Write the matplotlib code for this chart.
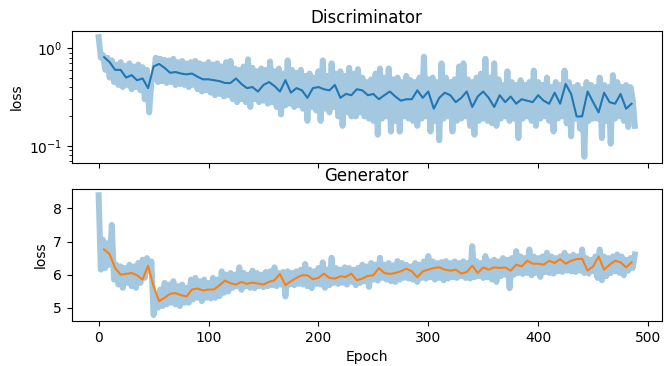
import matplotlib
matplotlib.use('Agg')
import matplotlib.pyplot as plt
import numpy as np

# raw losses: the noisy curve swings between highs (epochs 0, 4, 8, ...)
# and lows (epochs 2, 6, 10, ...)
d_highs = [1.30, 0.85, 0.80, 0.75,
           0.68, 0.72, 0.66, 0.70, 0.65, 0.68, 0.64, 0.60,
           0.45,
           0.80, 0.78, 0.76, 0.75, 0.78, 0.72, 0.74, 0.70, 0.72, 0.74, 0.70, 0.68, 0.72,
           0.68, 0.70, 0.65, 0.72,
           0.74, 0.62, 0.60, 0.65, 0.77, 0.63, 0.58, 0.62, 0.60, 0.73,
           0.58, 0.62, 0.55, 0.75, 0.60, 0.56, 0.60, 0.52, 0.55, 0.50,
           0.58, 0.75, 0.52, 0.70, 0.55, 0.58, 0.52, 0.63, 0.55, 0.61,
           0.50, 0.45, 0.48, 0.55, 0.62, 0.50, 0.62, 0.48, 0.50, 0.45,
           0.52, 0.47, 0.45, 0.50, 0.82, 0.48, 0.50, 0.45, 0.70, 0.50,
           0.45, 0.48, 0.65, 0.70, 0.48, 0.45, 0.50, 0.55, 0.78, 0.50,
           0.70, 0.48, 0.42, 0.58, 0.45, 0.42, 0.47, 0.42, 0.45, 0.59,
           0.45, 0.42, 0.50, 0.40, 0.45, 0.42, 0.59, 0.45, 0.40, 0.42,
           0.38, 0.45, 0.42, 0.40, 0.50, 0.42, 0.40, 0.53, 0.45, 0.40,
           0.42, 0.40, 0.16]
d_lows = [0.80, 0.60, 0.50, 0.45,
          0.42, 0.40, 0.42, 0.38, 0.40, 0.37, 0.30, 0.22,
          0.50, 0.45, 0.46, 0.44, 0.45, 0.42, 0.43, 0.42, 0.40, 0.42, 0.38, 0.36,
          0.37, 0.35, 0.33, 0.34, 0.32,
          0.33, 0.30, 0.28, 0.30, 0.28, 0.25, 0.30, 0.28, 0.29, 0.27,
          0.28, 0.25, 0.21, 0.26, 0.27, 0.25, 0.26, 0.24, 0.18, 0.25,
          0.23, 0.18, 0.24, 0.22, 0.25, 0.20, 0.16, 0.22, 0.20, 0.20, 0.22,
          0.20, 0.19, 0.18, 0.13, 0.19, 0.20, 0.14, 0.18, 0.14, 0.20,
          0.19, 0.18, 0.16, 0.19, 0.20, 0.14, 0.18, 0.114, 0.19, 0.20,
          0.14, 0.18, 0.19, 0.20, 0.16, 0.13, 0.18, 0.19, 0.18, 0.17,
          0.16, 0.19, 0.20, 0.18, 0.19, 0.12, 0.19, 0.20, 0.18, 0.16,
          0.19, 0.20, 0.18, 0.14, 0.19, 0.20, 0.17, 0.125, 0.19, 0.15,
          0.077, 0.18, 0.19, 0.19, 0.12, 0.18, 0.105, 0.19, 0.20, 0.18,
          0.156, 0.30]
g_highs = [8.40, 7.05, 6.95, 7.50, 6.30, 6.25, 6.20, 6.30, 6.25, 6.35,
           6.45, 6.50, 6.40,
           5.30, 5.55, 5.75, 5.70, 5.80, 5.65, 5.70, 5.60,
           5.85, 5.90, 5.80, 5.85, 5.75, 5.90, 5.85, 6.10, 6.00,
           6.05, 6.00, 6.22, 6.05, 6.00, 6.12, 6.05, 6.00, 6.08, 6.10,
           6.22, 6.05, 6.08, 6.10, 6.05, 6.10, 6.15, 6.32, 6.15, 6.10,
           6.20, 6.37, 6.15, 6.51, 6.20, 6.15, 6.22, 6.20, 6.15, 6.20,
           6.30, 6.25, 6.35, 6.30, 6.51, 6.30, 6.35, 6.28, 6.41, 6.35,
           6.30, 6.25, 6.35, 6.30, 6.40, 6.56, 6.40, 6.35, 6.38, 6.41,
           6.35, 6.40, 6.35, 6.40, 6.35, 6.86, 6.40, 6.35, 6.56, 6.40,
           6.45, 6.40, 6.50, 6.45, 6.50, 6.71, 6.55, 6.50, 6.76, 6.55,
           6.50, 6.55, 6.66, 6.55, 6.50, 6.55, 6.66, 6.55, 6.60, 6.55,
           6.76, 6.50, 6.45, 6.55, 6.76, 6.55, 6.50, 6.55, 6.61, 6.55,
           6.45, 6.50, 6.61]
g_lows = [6.15, 6.20, 6.30, 5.85, 5.70, 5.60, 5.75, 5.65, 5.60, 5.75,
          5.90, 6.10,
          4.78, 5.00, 5.05, 5.10, 5.15, 5.10, 5.05, 5.15, 5.15,
          5.25, 5.30, 5.20, 5.30, 5.28, 5.30, 5.35, 5.45,
          5.49, 5.60, 5.65, 5.54, 5.65, 5.60, 5.59, 5.65, 5.62, 5.65,
          5.68, 5.65, 5.70, 5.34, 5.70, 5.68, 5.72, 5.70, 5.65, 5.59,
          5.72, 5.70, 5.60, 5.68, 5.75, 5.72, 5.75, 5.70, 5.78, 5.68, 5.75,
          5.80, 5.63, 5.85, 5.82, 5.90, 5.85, 5.80, 5.78, 5.85, 5.90,
          5.88, 5.85, 5.78, 5.90, 5.88, 5.92, 5.85, 5.90, 5.83, 5.88,
          5.92, 5.90, 5.95, 5.90, 5.88, 5.92, 5.95, 5.90, 5.92, 5.85,
          5.78, 5.95, 6.00, 5.59, 6.00, 6.05, 6.02, 6.05, 5.98, 6.05,
          5.93, 6.08, 6.05, 6.03, 6.10, 6.08, 6.12, 6.10, 6.08, 6.12,
          6.05, 6.03, 6.10, 5.90, 5.83, 5.95, 6.05, 6.10, 6.05, 5.98,
          6.12, 6.20]

# smoothed losses, read every 5 epochs from epoch 5
d_smooth = [0.81, 0.72, 0.60, 0.60, 0.50, 0.53, 0.47, 0.49, 0.39, 0.65,
            0.69, 0.63, 0.56, 0.57, 0.55, 0.54, 0.55, 0.51, 0.48, 0.48,
            0.47, 0.46, 0.44, 0.44, 0.49, 0.43, 0.39, 0.40, 0.36, 0.42,
            0.45, 0.41, 0.36, 0.47, 0.35, 0.39, 0.37, 0.31, 0.39, 0.40,
            0.38, 0.37, 0.42, 0.31, 0.34, 0.33, 0.38, 0.37, 0.33, 0.34,
            0.30, 0.33, 0.36, 0.32, 0.29, 0.30, 0.30, 0.37, 0.31, 0.36,
            0.24, 0.31, 0.35, 0.33, 0.28, 0.31, 0.36, 0.25, 0.32, 0.36,
            0.31, 0.25, 0.33, 0.28, 0.32, 0.27, 0.30, 0.29, 0.28, 0.33,
            0.29, 0.27, 0.35, 0.27, 0.43, 0.34, 0.20, 0.20, 0.36, 0.28,
            0.22, 0.35, 0.28, 0.27, 0.34, 0.24, 0.27]
g_smooth = [6.76, 6.62, 6.20, 6.00, 6.02, 6.05, 5.98, 5.85, 6.27, 5.65,
            5.20, 5.30, 5.42, 5.44, 5.38, 5.34, 5.55, 5.58, 5.52, 5.55,
            5.55, 5.68, 5.82, 5.74, 5.70, 5.78, 5.72, 5.76, 5.73, 5.70,
            5.78, 5.83, 6.02, 5.68, 5.80, 5.90, 5.98, 5.98, 5.86, 5.90,
            6.03, 5.90, 5.88, 5.95, 5.93, 6.03, 5.83, 5.88, 5.96, 5.98,
            6.20, 6.05, 6.02, 6.05, 6.10, 6.18, 6.10, 5.92, 6.10, 6.15,
            6.20, 6.22, 6.15, 6.12, 6.15, 6.03, 6.08, 6.27, 6.05, 6.22,
            6.15, 6.22, 6.20, 6.22, 6.12, 6.30, 6.25, 6.42, 6.33, 6.33,
            6.30, 6.42, 6.35, 6.47, 6.33, 6.42, 6.47, 6.48, 6.12, 6.25,
            6.55, 6.15, 6.30, 6.42, 6.37, 6.22, 6.37]


def interleave(highs, lows):
    out = np.empty(len(highs) + len(lows))
    out[0::2] = highs
    out[1::2] = lows
    return out


d_raw = interleave(d_highs, d_lows)
g_raw = interleave(g_highs, g_lows)
raw_epochs = np.arange(len(d_raw)) * 2
smooth_epochs = 5 + np.arange(len(d_smooth)) * 5

fig, (ax1, ax2) = plt.subplots(2, 1, sharex=True, figsize=(6.65, 3.66), dpi=100)
fig.subplots_adjust(left=0.108, right=0.995, top=0.915, bottom=0.123, hspace=0.2)

ax1.plot(raw_epochs, d_raw, color='C0', alpha=0.4, lw=4.3)
ax1.plot(smooth_epochs, d_smooth, color='C0')
ax1.set_yscale('log')
ax1.set_title('Discriminator')
ax1.set_ylabel('loss')

ax2.plot(raw_epochs, g_raw, color='C0', alpha=0.4, lw=4.3)
ax2.plot(smooth_epochs, g_smooth, color='C1')
ax2.set_title('Generator')
ax2.set_ylabel('loss')
ax2.set_xlabel('Epoch')

fig.savefig('out.png', dpi=100)
